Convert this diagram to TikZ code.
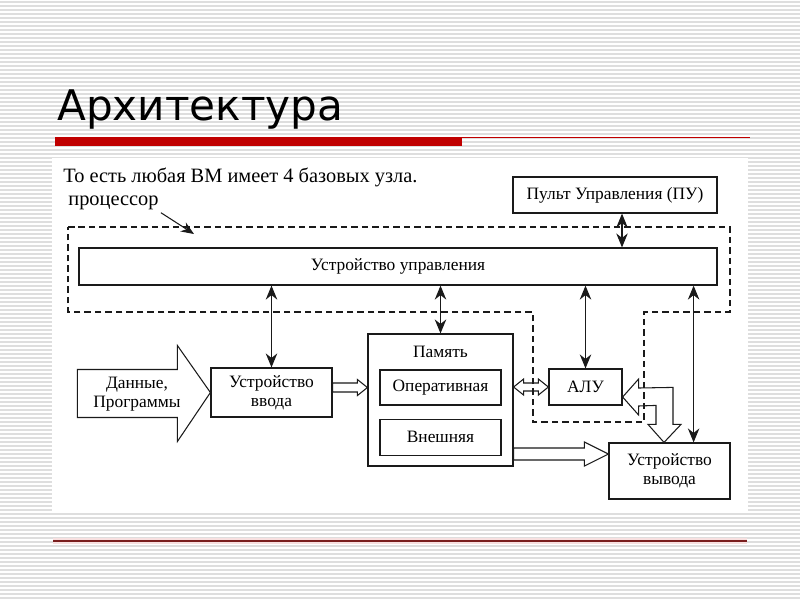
\documentclass[tikz,border=0pt]{standalone}
\usepackage{fontspec}
\setmainfont{Liberation Serif}
\newfontfamily\titlefont{DejaVu Sans}
\usepackage{tikz}
\usetikzlibrary{arrows.meta, positioning, calc}
\definecolor{slidered}{HTML}{C00000}
\definecolor{darkline}{HTML}{7A1E1E}
\definecolor{stripe}{HTML}{DEDEDE}
\definecolor{ink}{HTML}{1A1A1A}
\def\upx{0.2mm}

\begin{document}
\begin{tikzpicture}[x=0.02cm, y=-0.02cm,
    block/.style={rectangle, draw=ink, line width=0.7pt, fill=white,
                  font=\fontsize{9.9}{11}\selectfont, align=center, inner sep=0pt},
    label/.style={font=\fontsize{9.9}{11}\selectfont, align=center, inner sep=0pt},
    link/.style={{Stealth[length=2.8mm, width=2.3mm]}-{Stealth[length=2.8mm, width=2.3mm]},
                 line width=0.6pt, color=ink},
    pointer/.style={-{Stealth[length=2.6mm, width=2.1mm]}, line width=0.6pt, color=ink},
    hollow/.style={draw=ink, line width=0.6pt, fill=white, line join=miter},
    frame/.style={draw=ink, line width=0.7pt, dash pattern=on 1.3mm off 0.8mm}
]
\useasboundingbox (0,0) rectangle (800,600);
\fill[white] (0,0) rectangle (800,600);
\foreach \i in {0,...,149}
    \draw[stripe, line width=0.35mm] (0,4*\i+2) -- (800,4*\i+2);

\node[anchor=base west, font=\titlefont\fontsize{24}{28}\selectfont, inner sep=0pt] (title) at (57,120) {Архитектура};
\fill[slidered] (55,137) rectangle (462,146);
\draw[slidered, line width=0.3mm] (462,137.5) -- (750,137.5);
\draw[slidered!12, line width=1.2mm] (53,541) -- (747,541);
\draw[darkline, line width=0.3mm] (53,541) -- (747,541);

\fill[white] (52,158) rectangle (748,512);

\node[anchor=base west, font=\fontsize{11.6}{13}\selectfont, inner sep=0pt] (intro) at (63,182) {То есть любая ВМ имеет 4 базовых узла.};
\node[anchor=base west, font=\fontsize{11.6}{13}\selectfont, inner sep=0pt] (proc) at (68,205) {процессор};

\node[block, minimum width=204*\upx, minimum height=36*\upx] (pu) at (615,195) {Пульт Управления (ПУ)};
\node[block, minimum width=638*\upx, minimum height=37*\upx] (uu) at (398,266.5) {Устройство управления};
\node[block, minimum width=121*\upx, minimum height=49*\upx] (vvod) at (271.5,392.5) {Устройство\\ввода};
\node[block, minimum width=145*\upx, minimum height=132*\upx] (pam) at (440.5,400) {};
\node[label] (pamlbl) at (440.5,352) {Память};
\node[block, minimum width=121*\upx, minimum height=35*\upx] (oper) at (440.5,387.5) {Оперативная};
\node[block, minimum width=121*\upx, minimum height=36*\upx, below=2.6mm of oper] (vnesh) {Внешняя};
\node[block, minimum width=73*\upx, minimum height=36*\upx] (alu) at (585.5,387) {АЛУ};
\node[block, minimum width=121*\upx, minimum height=56*\upx] (vyvod) at (669.5,471) {Устройство\\вывода};

\coordinate (dtip) at (vvod.west);
\draw[hollow] (dtip) -- ($(dtip)+(-33,-47)$) -- ($(dtip)+(-33,-23)$) -- ($(dtip)+(-133,-23)$)
    -- ($(dtip)+(-133,25)$) -- ($(dtip)+(-33,25)$) -- ($(dtip)+(-33,49)$) -- cycle;
\node[label] (data) at (137,394) {Данные,\\Программы};

\coordinate (puout) at ($(pu.south)+(7,0)$);
\draw[link] (puout) -- (uu.north -| puout);
\draw[link] (uu.south -| vvod.north) -- (vvod.north);
\draw[link] (uu.south -| pam.north) -- (pam.north);
\draw[link] (uu.south -| alu.north) -- (alu.north);
\coordinate (vyin) at ($(vyvod.north east)+(-37,0)$);
\draw[link] (uu.south -| vyin) -- (vyin);

\coordinate (va) at ($(vvod.east)+(0,-5)$);
\coordinate (vb) at (pam.west |- va);
\draw[hollow] ($(va)+(0,-4.5)$) -- ($(vb)+(-10,-4.5)$) -- ($(vb)+(-10,-8)$) -- (vb)
    -- ($(vb)+(-10,8)$) -- ($(vb)+(-10,4.5)$) -- ($(va)+(0,4.5)$) -- cycle;

\coordinate (oa) at (pam.east |- alu.west);
\coordinate (ob) at (alu.west);
\draw[hollow] (oa) -- ($(oa)+(10,-8)$) -- ($(oa)+(10,-4)$) -- ($(ob)+(-10,-4)$) -- ($(ob)+(-10,-8)$)
    -- (ob) -- ($(ob)+(-10,8)$) -- ($(ob)+(-10,4)$) -- ($(oa)+(10,4)$) -- ($(oa)+(10,8)$) -- cycle;

\coordinate (wb) at ($(vyvod.west)+(0,-17)$);
\coordinate (wa) at (pam.east |- wb);
\draw[hollow] ($(wa)+(0,-6)$) -- ($(wb)+(-24,-6)$) -- ($(wb)+(-24,-12)$) -- (wb)
    -- ($(wb)+(-24,12)$) -- ($(wb)+(-24,6)$) -- ($(wa)+(0,6)$) -- cycle;

\coordinate (t1) at ($(alu.east)+(0,10)$);
\coordinate (t2) at ($(vyvod.north)+(-5.5,0)$);
\draw[hollow] (t1) -- ($(t1)+(16,-18)$) -- ($(t1)+(16,-9)$) -- ($(t2)+(9,-55)$) -- ($(t2)+(9,-18)$)
    -- ($(t2)+(17,-18)$) -- (t2) -- ($(t2)+(-16,-18)$) -- ($(t2)+(-8,-18)$) -- ($(t2)+(-8,-37)$)
    -- ($(t1)+(16,9)$) -- ($(t1)+(16,18)$) -- cycle;

\draw[frame] (68,227) -- (730,227) -- (730,312) -- (644,312) -- (644,422) -- (533,422)
    -- (533,312) -- (68,312) -- cycle;

\coordinate (prochit) at (194,234);
\draw[pointer] ($(proc.south east)+(2,3)$) -- (prochit);

\end{tikzpicture}
\end{document}
